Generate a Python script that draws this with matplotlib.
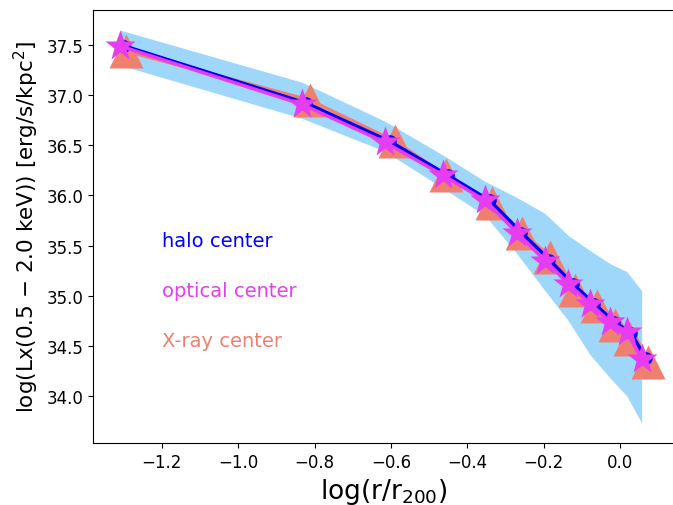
import matplotlib
matplotlib.use('Agg')
import matplotlib.pyplot as plt
import numpy as np

# optical center profile (stars)
r_opt = [-1.310, -0.834, -0.616, -0.463, -0.354, -0.271, -0.197, -0.136, -0.079, -0.027, 0.017, 0.056]
lx_opt = [37.49, 36.91, 36.53, 36.20, 35.95, 35.63, 35.35, 35.12, 34.92, 34.74, 34.64, 34.37]

# halo center profile (blue line)
r_halo = [-1.298, -0.822, -0.604, -0.451, -0.342, -0.259, -0.186, -0.125, -0.068, -0.016, 0.028, 0.066]
lx_halo = [37.49, 36.92, 36.54, 36.20, 35.95, 35.63, 35.36, 35.12, 34.92, 34.74, 34.63, 34.38]

# X-ray center profile (triangles)
r_xray = [-1.294, -0.813, -0.590, -0.456, -0.336, -0.257, -0.184, -0.119, -0.062, -0.014, 0.025, 0.072]
lx_xray = [37.44, 36.95, 36.54, 36.20, 35.92, 35.63, 35.39, 35.06, 34.90, 34.71, 34.57, 34.34]

# scatter band around the halo-center profile
band_lo = [37.30, 36.77, 36.44, 36.07, 35.80, 35.42, 35.05, 34.75, 34.41, 34.18, 34.00, 33.73]
band_hi = [37.65, 37.13, 36.74, 36.40, 36.14, 35.98, 35.82, 35.60, 35.45, 35.32, 35.24, 35.05]

blue = '#0000FF'
magenta = '#E63CF2'
salmon = '#EF8070'

fig = plt.figure(figsize=(6.73, 5.06), dpi=100)
# axes run just past the right edge of the picture, as in the original crop
ax = fig.add_axes([93 / 673, 62 / 506, (675 - 93) / 673, (444 - 10.7) / 506])

ax.fill_between(r_opt, band_lo, band_hi, color='#87CEFA', alpha=0.8, lw=0, zorder=1)
ax.plot(r_xray, lx_xray, '-^', color=salmon, lw=2.5, ms=25, mec='none', zorder=2)
ax.plot(r_halo, lx_halo, '-o', color=blue, lw=2.5, ms=9, mec='none', zorder=3)
ax.plot(r_opt, lx_opt, '-*', color=magenta, lw=2.5, ms=23, mec='none', zorder=4)

ax.text(-1.2, 35.5, 'halo center', color=blue, fontsize=14)
ax.text(-1.2, 35.0, 'optical center', color=magenta, fontsize=14)
ax.text(-1.2, 34.5, 'X-ray center', color=salmon, fontsize=14)

ax.set_xlim(-1.380, (675 - 620.3) / 382)
ax.set_ylim(33.531, 37.852)
ax.set_xticks([-1.2, -1.0, -0.8, -0.6, -0.4, -0.2, 0.0])
ax.set_yticks([34.0, 34.5, 35.0, 35.5, 36.0, 36.5, 37.0, 37.5])
ax.tick_params(labelsize=12)

ax.set_xlabel(r'log(r/r$_{200}$)', fontsize=19)
ax.set_ylabel(r'log(Lx(0.5 $-$ 2.0 keV)) [erg/s/kpc$^2$]', fontsize=15.5)

fig.savefig('out.png', dpi=100)
